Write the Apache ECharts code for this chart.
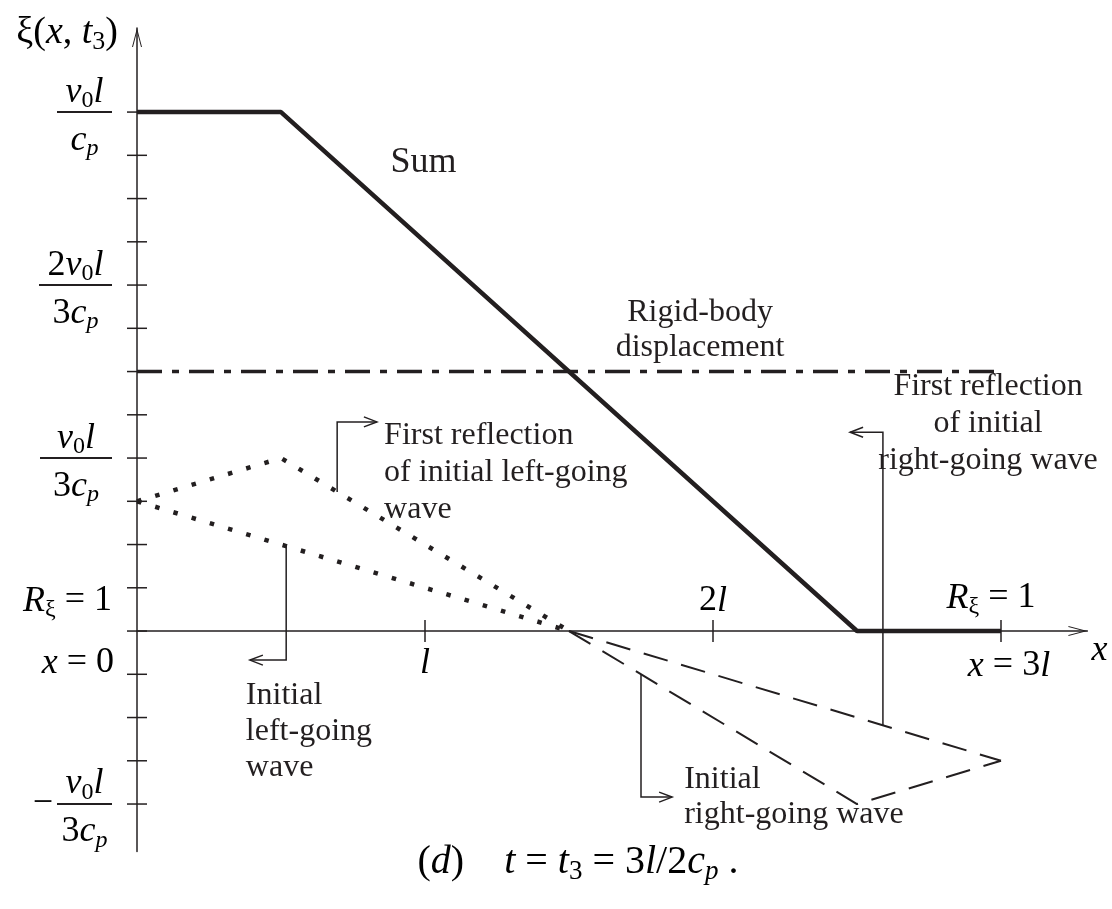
<!DOCTYPE html>
<html><head><meta charset="utf-8">
<script src="https://cdn.jsdelivr.net/npm/echarts@6/dist/echarts.min.js"></script>
<style>html,body{margin:0;padding:0;background:#fff}#chart{width:1112px;height:909px}</style>
</head><body><div id="chart"></div>
<script>
// ---- data (x in units of l, y in units of v0*l/c_p) ----
const sumWave            = [[0, 1], [0.5, 1], [2.5, 0], [3, 0]];
const rigidBody          = [[0, 0.5], [3, 0.5]];
const initialLeftWave    = [[0, 0.25], [1.5, 0]];
const firstReflLeftWave  = [[0, 0.25], [0.5, 1/3], [1.5, 0]];
const initialRightWave   = [[1.5, 0], [2.5, -1/3], [3, -0.25]];
const firstReflRightWave = [[1.5, 0], [3, -0.25]];

const xTickValues = [1, 2, 3];
const yTickValues = [-4/12, -3/12, -2/12, -1/12, 0, 1/12, 2/12, 3/12, 4/12, 5/12, 6/12, 7/12, 8/12, 9/12, 10/12, 11/12, 1];

// y tick labels (fractions): value, numerator tokens, denominator tokens
const yLabelValues = [1, 2/3, 1/3, -1/3];
const yLabelNum = [
  [['v','i'],['0','s'],['l','i']],
  [['2','r'],['v','i'],['0','s'],['l','i']],
  [['v','i'],['0','s'],['l','i']],
  [['v','i'],['0','s'],['l','i']]
];
const yLabelDen = [
  [['c','i'],['p','si']],
  [['3','r'],['c','i'],['p','si']],
  [['3','r'],['c','i'],['p','si']],
  [['3','r'],['c','i'],['p','si']]
];

// axis annotations: text tokens and anchor values
const axisNoteTokens = [
  [['R','i'],['ξ','s'],[' = 1','r']],
  [['x','i'],[' = 0','r']],
  [['l','i']],
  [['2','r'],['l','i']],
  [['R','i'],['ξ','s'],[' = 1','r']],
  [['x','i'],[' = 3','r'],['l','i']],
  [['x','i']]
];
const axisNoteAnchors = [[0,0],[0,0],[1,0],[2,0],[3,0],[3,0],[3.3,0]];

// curve annotations
const noteTexts = [
  'Sum',
  'Rigid-body\ndisplacement',
  'First reflection\nof initial left-going\nwave',
  'Initial\nleft-going\nwave',
  'Initial\nright-going wave',
  'First reflection\nof initial\nright-going wave'
];
const noteAnchors = [[0.88, 0.942], [1.955, 0.647], [0.858, 0.412], [0.378, -0.0906], [1.90, -0.252], [2.955, 0.507]];

// leader arrows (x in l, y in v0 l/c_p)
const leaders = [
  [[0.695, 0.268], [0.695, 0.403], [0.833, 0.403]],
  [[0.518, 0.164], [0.518, -0.056], [0.392, -0.056]],
  [[1.75, -0.0833], [1.75, -0.32], [1.858, -0.32]],
  [[2.59, -0.182], [2.59, 0.383], [2.476, 0.383]]
];

// ---- style ----
const INK = '#231f20';
const FONT = '"Liberation Serif","Times New Roman",serif';
function richFor(size) {
  const lh = Math.round(size * 1.15), sub = Math.round(size * 0.68);
  return {
    i:  {fontFamily: FONT, fontStyle: 'italic', fontSize: size, lineHeight: lh, color: INK},
    r:  {fontFamily: FONT, fontSize: size, lineHeight: lh, color: INK},
    s:  {fontFamily: FONT, fontSize: sub, lineHeight: lh, color: INK, verticalAlign: 'bottom'},
    si: {fontFamily: FONT, fontStyle: 'italic', fontSize: sub, lineHeight: lh, color: INK, verticalAlign: 'bottom'}
  };
}
const RICH = richFor(36);
const mt = parts => parts.map(([t, s]) => '{' + s + '|' + t + '}').join('');

const fracBarWidth = [55, 73, 72, 55];
const axisNoteOffsets = [[-25, -30, 'right'], [-23, 32, 'right'], [0, 32, 'center'], [0, -30, 'center'], [-10, -33, 'center'], [8, 35, 'center'], [4, 19, 'left']];
const noteStyle = [
  {size: 36, lh: 40, align: 'left'},
  {size: 32, lh: 35, align: 'center'},
  {size: 32, lh: 37, align: 'left'},
  {size: 32, lh: 36, align: 'left'},
  {size: 32, lh: 35, align: 'left'},
  {size: 32, lh: 37, align: 'center'}
];

const ARROW = 'path://M5,0 L10,19 L9,19 L5,3.8 L1,19 L0,19 Z';

function lineSeries(data, lineStyle, z) {
  return {type: 'line', data, showSymbol: false, symbol: 'none', silent: true, animation: false, z: z || 2,
          lineStyle: Object.assign({color: INK}, lineStyle)};
}

const chart = echarts.init(document.getElementById('chart'), null, {renderer: 'canvas'});
chart.setOption({
  backgroundColor: '#fff',
  animation: false,
  grid: {left: 137, top: 28, width: 950.4, height: 823.6, outerBoundsMode: 'none', containLabel: false},
  xAxis: {
    type: 'value', min: 0, max: 3.3,
    axisLine: {onZero: true, lineStyle: {color: INK, width: 1.5}, symbol: ['none', ARROW], symbolSize: [10, 19], symbolOffset: [0, -9.5]},
    axisTick: {show: false}, axisLabel: {show: false}, splitLine: {show: false}
  },
  yAxis: {
    type: 'value', min: -0.425, max: 1.162,
    axisLine: {onZero: true, lineStyle: {color: INK, width: 1.5}, symbol: ['none', ARROW], symbolSize: [10, 19], symbolOffset: [0, -9.5]},
    axisTick: {show: false}, axisLabel: {show: false}, splitLine: {show: false}
  },
  graphic: [
    {type: 'text', x: 118, y: 33, style: {text: mt([['ξ(','r'],['x','i'],[', ','r'],['t','i'],['3','s'],[')','r']]), rich: richFor(38), align: 'right', verticalAlign: 'middle'}},
    {type: 'text', x: 578, y: 862, style: {text: mt([['(','r'],['d','i'],[')    ','r'],['t','i'],[' = ','r'],['t','i'],['3','s'],[' = 3','r'],['l','i'],['/2','r'],['c','i'],['p','si'],[' .','r']]), rich: richFor(40), align: 'center', verticalAlign: 'middle'}}
  ],
  series: [
    lineSeries(rigidBody, {width: 3.5, type: [25, 10, 7, 10]}),
    lineSeries(initialLeftWave, {width: 4.5, type: [4.5, 14.5], cap: 'butt'}),
    lineSeries(firstReflLeftWave, {width: 4.5, type: [4.5, 14.5], cap: 'butt'}),
    lineSeries(initialRightWave, {width: 2, type: [25, 14]}),
    lineSeries(firstReflRightWave, {width: 2, type: [25, 14]}),
    lineSeries(sumWave, {width: 4.5}, 4),
    { // y ticks
      type: 'custom', silent: true, animation: false, z: 5,
      data: yTickValues.map(v => [0, v]),
      renderItem: (params, api) => {
        const p = api.coord([0, api.value(1)]);
        return {type: 'line', shape: {x1: p[0] - 10, y1: p[1], x2: p[0] + 10, y2: p[1]}, style: {stroke: INK, lineWidth: 1.5}};
      }
    },
    { // x ticks
      type: 'custom', silent: true, animation: false, z: 5,
      data: xTickValues.map(v => [v, 0]),
      renderItem: (params, api) => {
        const p = api.coord([api.value(0), 0]);
        return {type: 'line', shape: {x1: p[0], y1: p[1] - 11, x2: p[0], y2: p[1] + 11}, style: {stroke: INK, lineWidth: 1.5}};
      }
    },
    { // y fraction labels
      type: 'custom', silent: true, animation: false, z: 5,
      data: yLabelValues.map(v => [0, v]),
      renderItem: (params, api) => {
        const i = params.dataIndex;
        const p = api.coord([0, yLabelValues[i]]);
        const right = p[0] - 25, w = fracBarWidth[i], cx = right - w / 2, y = p[1];
        const children = [
          {type: 'line', shape: {x1: right - w, y1: y, x2: right, y2: y}, style: {stroke: INK, lineWidth: 2}},
          {type: 'text', x: cx, y: y - 20, style: {text: mt(yLabelNum[i]), rich: RICH, align: 'center', verticalAlign: 'middle'}},
          {type: 'text', x: cx, y: y + 28, style: {text: mt(yLabelDen[i]), rich: RICH, align: 'center', verticalAlign: 'middle'}}
        ];
        if (yLabelValues[i] < 0) {
          children.push({type: 'text', x: right - w - 4, y: y, style: {text: mt([['−','r']]), rich: RICH, align: 'right', verticalAlign: 'middle'}});
        }
        return {type: 'group', children};
      }
    },
    { // axis notes
      type: 'custom', silent: true, animation: false, z: 5,
      data: axisNoteAnchors,
      renderItem: (params, api) => {
        const i = params.dataIndex;
        const p = api.coord(axisNoteAnchors[i]);
        const o = axisNoteOffsets[i];
        return {type: 'text', x: p[0] + o[0], y: p[1] + o[1], style: {text: mt(axisNoteTokens[i]), rich: RICH, align: o[2], verticalAlign: 'middle'}};
      }
    },
    { // curve notes
      type: 'custom', silent: true, animation: false, z: 5,
      data: noteAnchors,
      renderItem: (params, api) => {
        const i = params.dataIndex;
        const p = api.coord(noteAnchors[i]);
        const s = noteStyle[i];
        return {type: 'text', x: p[0], y: p[1], style: {text: noteTexts[i], fill: INK, font: s.size + 'px ' + FONT, lineHeight: s.lh, align: s.align, verticalAlign: 'top'}};
      }
    },
    { // leader arrows
      type: 'custom', silent: true, animation: false, z: 5,
      data: leaders.map(l => l[0]),
      renderItem: (params, api) => {
        const pts = leaders[params.dataIndex].map(pt => api.coord(pt));
        const e = pts[pts.length - 1], q = pts[pts.length - 2];
        let dx = e[0] - q[0], dy = e[1] - q[1];
        const len = Math.hypot(dx, dy); dx /= len; dy /= len;
        const a1 = [e[0] - dx * 13 - dy * 5, e[1] - dy * 13 + dx * 5];
        const a2 = [e[0] - dx * 13 + dy * 5, e[1] - dy * 13 - dx * 5];
        return {type: 'group', children: [
          {type: 'polyline', shape: {points: pts}, style: {stroke: INK, lineWidth: 1.5, fill: null}},
          {type: 'polyline', shape: {points: [a1, e, a2]}, style: {stroke: INK, lineWidth: 1.5, fill: null}}
        ]};
      }
    }
  ]
});
</script></body></html>
